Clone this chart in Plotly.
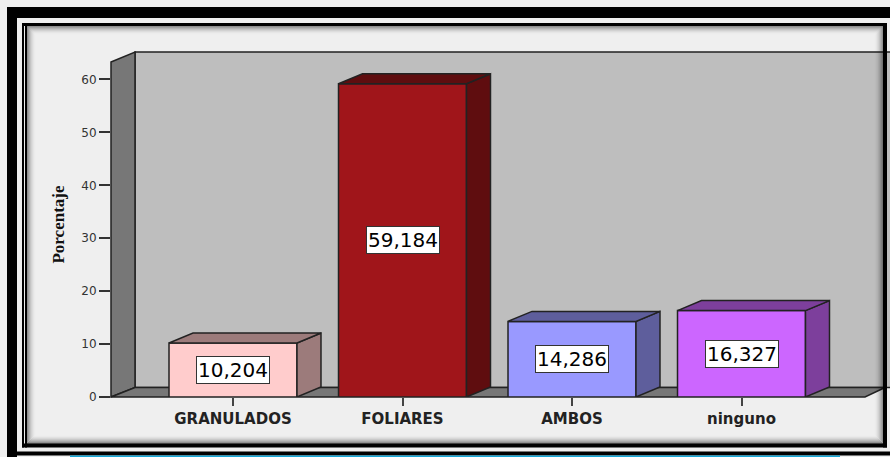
# -*- coding: utf-8 -*-
import plotly.graph_objs as go

categorias = ["GRANULADOS", "FOLIARES", "AMBOS", "ninguno"]
porcentajes = [10.204, 59.184, 14.286, 16.327]
colores = ["#FFCCCC", "#A0151A", "#9999FF", "#CC66FF"]
colores_lado = ["#9C7B7B", "#5F0D0F", "#5E5E9C", "#7D3F9C"]
ticks_y = [0, 10, 20, 30, 40, 50, 60]

W, H = 890, 457
izq, der, arriba, abajo = 111, 883, 52, 397.5
px_por_unidad = 5.3
px_por_categoria = 169.5
x_primera = 233
ancho_barra = 0.755
# profundidad del efecto 3D, en unidades de los ejes
prof_x = 24 / px_por_categoria
prof_y = 10 / px_por_unidad


def px(x):
    return (x - izq) / (der - izq)


def py(y):
    return (abajo - y) / (abajo - arriba)


def poligono(puntos, relleno, borde="#222222", ancho=1.5, capa="below"):
    d = "M " + " L ".join("%.5f,%.5f" % (px(a), py(b)) for a, b in puntos) + " Z"
    return dict(type="path", xref="paper", yref="paper", path=d, fillcolor=relleno,
                line=dict(color=borde, width=ancho), layer=capa)


def banda(x0, y0, x1, y1, color):
    return dict(type="rect", xref="paper", yref="paper", x0=px(x0), y0=py(y0), x1=px(x1), y1=py(y1),
                fillcolor=color, line=dict(width=0), layer="above")


formas = [
    # paredes y suelo
    poligono([(135, 52), (891, 52), (891, 388), (135, 388)], "#BEBEBE"),
    poligono([(111, 62), (135, 52), (135, 388), (111, 397.5)], "#777777"),
    poligono([(111, 397.5), (135, 388), (883, 388), (883, 389), (865, 397.5)], "#777777"),
]

# sombra interior del marco
for i in range(9):
    alfa = 0.5 * (1 - i / 9) ** 2
    formas.append(dict(type="rect", xref="paper", yref="paper",
                       x0=px(27 + i), x1=px(883 - i), y0=py(26 + i), y1=py(444 - i),
                       line=dict(color="rgba(0,0,0,%.3f)" % alfa, width=1), layer="above"))

# marco negro doble
formas += [
    banda(7, 7, 891, 18, "#000000"),
    banda(7, 7, 17, 458, "#000000"),
    banda(7, 452, 891, 456, "#000000"),
    banda(22, 23, 887, 26, "#000000"),
    banda(22, 23, 24, 448, "#000000"),
    banda(25, 23, 27, 448, "#000000"),
    banda(22, 444, 887, 448, "#000000"),
    banda(883, 23, 887, 448, "#000000"),
    banda(70, 456, 840, 458, "#17A8D8"),
]

fig = go.Figure()

fig.add_trace(go.Bar(x=list(range(len(categorias))), y=porcentajes, width=ancho_barra,
                     marker=dict(color=colores, line=dict(color="#222222", width=1.5)),
                     hoverinfo="skip"))

# caras lateral y superior de cada barra
for i, v in enumerate(porcentajes):
    x0 = i - ancho_barra / 2
    x1 = i + ancho_barra / 2
    fig.add_trace(go.Scatter(x=[x1, x1 + prof_x, x1 + prof_x, x1, x1], y=[0, prof_y, v + prof_y, v, 0],
                             mode="lines", fill="toself", fillcolor=colores_lado[i],
                             line=dict(color="#222222", width=1.5), hoverinfo="skip", cliponaxis=False))
    fig.add_trace(go.Scatter(x=[x0, x0 + prof_x, x1 + prof_x, x1, x0], y=[v, v + prof_y, v + prof_y, v, v],
                             mode="lines", fill="toself", fillcolor=colores_lado[i],
                             line=dict(color="#222222", width=1.5), hoverinfo="skip", cliponaxis=False))

etiquetas = [dict(x=i, y=v / 2, xref="x", yref="y", text=("%.3f" % v).replace(".", ","), showarrow=False,
                  font=dict(family="DejaVu Sans", size=20, color="#000000"),
                  bgcolor="#FFFFFF", bordercolor="#333333", borderwidth=1, borderpad=1)
             for i, v in enumerate(porcentajes)]

fig.update_layout(
    width=W, height=H, autosize=False, showlegend=False,
    margin=dict(l=izq, r=W - der, t=arriba, b=H - abajo, pad=0, autoexpand=False),
    paper_bgcolor="#EFEFEF", plot_bgcolor="rgba(0,0,0,0)",
    shapes=formas, annotations=etiquetas,
    xaxis=dict(range=[(izq - x_primera) / px_por_categoria, (der - x_primera) / px_por_categoria],
               tickmode="array", tickvals=list(range(len(categorias))), ticktext=categorias,
               ticks="outside", ticklen=8, tickwidth=2, tickcolor="#444444",
               tickfont=dict(family="DejaVu Sans", size=15, weight="bold", color="#222222"),
               showgrid=False, zeroline=False, showline=False),
    yaxis=dict(range=[0, (abajo - arriba) / px_por_unidad], tickmode="array", tickvals=ticks_y,
               ticks="outside", ticklen=11, tickwidth=1.5, tickcolor="#333333",
               tickfont=dict(family="DejaVu Sans", size=12, color="#333333"),
               title=dict(text="Porcentaje", standoff=12,
                          font=dict(family="Liberation Sans Narrow", size=17, weight="bold", color="#111111")),
               showgrid=False, zeroline=False, showline=False),
)

fig.write_html("out.html", config=dict(displayModeBar=False),
               post_script="document.body.style.margin='0';document.body.style.background='#FFFFFF';")
